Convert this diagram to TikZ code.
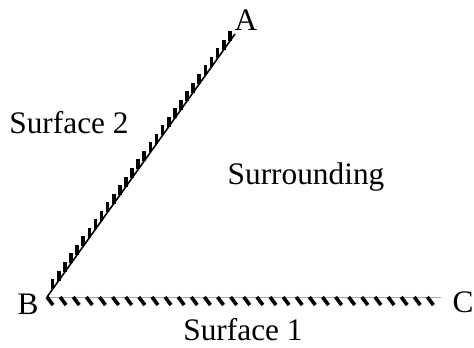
\documentclass[tikz,border=0pt]{standalone}
\usepackage{fontspec}
\setmainfont{Liberation Serif}
\usetikzlibrary{calc}

\begin{document}
\begin{tikzpicture}[
        x=0.75pt, y=-0.75pt,
        lbl/.style={font=\fontsize{23.5}{28}\selectfont, anchor=base, inner sep=0pt},
        hatch/.style={line width=2.7pt, black},
        wall/.style={line width=1.2pt, black}
      ]
        \useasboundingbox (0,0) rectangle (474,347);

        % corner points
        \coordinate (A) at (235,34);
        \coordinate (B) at (47,297);
        \coordinate (C) at (441,297);

        % surface 1 (bottom)
        \draw[gray!70, line width=0.6pt] (B) -- (C);
        \foreach \t in {0,0.0333,...,0.99}
          \draw[hatch] ($(B)!\t!(C)$) -- ++(6,8);

        % surface 2 (slanted)
        \draw[wall] (B) -- (A);
        \foreach \t in {0.03,0.0625,...,1.0}
          \draw[hatch] ($(B)!\t!(A)$) -- ++(0,-10);

        % labels
        \node[lbl] (lA)   at (246,30)  {A};
        \node[lbl] (lB)   at (28,314)  {B};
        \node[lbl] (lC)   at (463,312) {C};
        \node[lbl] (ls2)  at (69,133)  {Surface 2};
        \node[lbl] (ls1)  at (243,340) {Surface 1};
        \node[lbl] (lsur) at (306,184) {Surrounding};
      \end{tikzpicture}
\end{document}
